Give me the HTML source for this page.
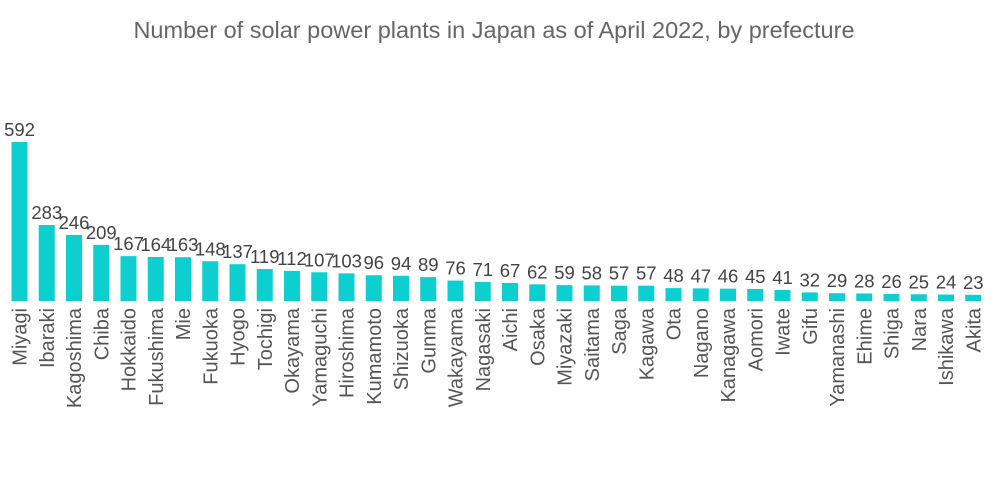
<!DOCTYPE html>
<html><head><meta charset="utf-8"><style>
body{margin:0;background:#fff;}
svg{display:block;font-family:"Liberation Sans",sans-serif;}
</style></head><body>
<svg id="chart" width="1000" height="504">
<text x="494" y="38" text-anchor="middle" font-size="23.5" fill="#666">Number of solar power plants in Japan as of April 2022, by prefecture</text>
<g id="bars"></g>
</svg>
<script>
const categories=["Miyagi","Ibaraki","Kagoshima","Chiba","Hokkaido","Fukushima","Mie","Fukuoka","Hyogo","Tochigi","Okayama","Yamaguchi","Hiroshima","Kumamoto","Shizuoka","Gunma","Wakayama","Nagasaki","Aichi","Osaka","Miyazaki","Saitama","Saga","Kagawa","Ota","Nagano","Kanagawa","Aomori","Iwate","Gifu","Yamanashi","Ehime","Shiga","Nara","Ishikawa","Akita"];
const values=[592,283,246,209,167,164,163,148,137,119,112,107,103,96,94,89,76,71,67,62,59,58,57,57,48,47,46,45,41,32,29,28,26,25,24,23];
const valueLabels=values.map(String);
const ns="http://www.w3.org/2000/svg";
const g=document.getElementById('bars');
const baseY=301, x0=19.5, step=27.25, bw=16, scale=159/592;
function xPos(i){return x0+i*step;}
function yPos(v){return baseY-v*scale;}
categories.forEach((c,i)=>{
  const cx=xPos(i), y=yPos(values[i]);
  const r=document.createElementNS(ns,'rect');
  r.setAttribute('x',cx-bw/2);r.setAttribute('y',y);r.setAttribute('width',bw);r.setAttribute('height',baseY-y);r.setAttribute('fill','#0dcfd0');
  
  
  g.appendChild(r);
  const t=document.createElementNS(ns,'text');
  t.setAttribute('x',cx);t.setAttribute('y',y-6);t.setAttribute('text-anchor','middle');t.setAttribute('font-size','18.5');t.setAttribute('fill','#444');
  t.textContent=valueLabels[i];
  
  
  g.appendChild(t);
  const l=document.createElementNS(ns,'text');
  l.setAttribute('transform','translate('+(cx+7)+',308) rotate(-90)');
  l.setAttribute('text-anchor','end');l.setAttribute('font-size','20');l.setAttribute('fill','#555');
  l.textContent=c;
  
  
  g.appendChild(l);
});
</script>
</body></html>
